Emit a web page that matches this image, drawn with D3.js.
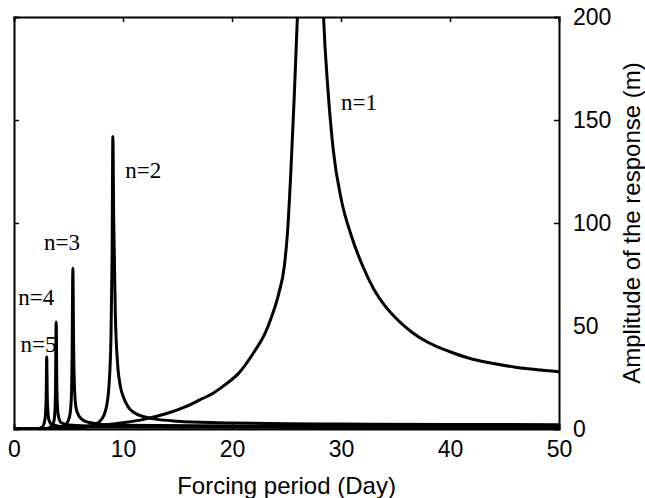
<!DOCTYPE html>
<html>
	<head>
		<title>Forced response amplitude</title>
		<script src="https://d3js.org/d3.v7.min.js"></script>
		<style>
			body {
				margin: 0;
				background-color: white;
			}
			svg {
				display: block;
			}
			.tick-label, .axis-title {
				font-family: "Liberation Sans", Arial, sans-serif;
				fill: black;
			}
			.mode-label {
				font-family: "Liberation Serif", "Times New Roman", serif;
				font-size: 23px;
				fill: black;
			}
			.curve {
				fill: none;
				stroke: black;
				stroke-width: 3;
			}
		</style>
	</head>
	<body>
		<svg id="chart" width="645" height="498"></svg>
		<script>
			// axis ticks
			var xTicks = [0, 10, 20, 30, 40, 50];
			var yTicks = [0, 50, 100, 150, 200];

			// [period (day), amplitude (m)], one array per mode
			var mode1 = [[0, 0], [2, 0.1], [4, 0.4], [6, 0.9], [8, 1.8], [10, 3], [12, 4.8], [14, 7.5],
				[15.7, 10.7], [17, 14], [18.3, 17.5], [19.5, 22], [20.6, 27], [22.1, 38], [23, 46],
				[23.6, 54], [24.3, 66], [24.8, 79], [25.1, 96], [25.4, 125], [25.7, 160], [26, 200],
				[26.3, 250], [28.1, 250], [28.4, 200], [28.8, 165], [29.3, 135], [30, 112], [31, 93],
				[32, 79], [33, 68], [34, 60], [35, 54], [36.5, 47], [38, 42], [40, 37.5], [42, 34],
				[44, 31.8], [46, 30], [48, 28.8], [50, 27.8]];
			var mode2 = [[0, 0], [5, 0.3], [6.5, 1], [7.5, 2.5], [8, 4.5], [8.4, 9], [8.7, 20],
				[8.9, 45], [9.0, 85], [9.07, 142], [9.15, 100], [9.3, 55], [9.5, 32], [9.75, 21],
				[10, 16], [10.5, 10.5], [11, 8], [12, 5.8], [13, 4.8], [15, 3.8], [18, 3.1], [20, 2.9],
				[25, 2.6], [30, 2.4], [40, 2.2], [50, 2.1]];
			var mode3 = [[0, 0], [3.5, 0.3], [4.4, 1], [4.8, 2.5], [5.1, 6], [5.25, 14], [5.33, 35],
				[5.4, 78], [5.47, 40], [5.55, 20], [5.7, 10], [6, 6], [6.5, 3.8], [7.5, 2.6], [10, 1.8],
				[20, 1.4], [50, 1.2]];
			var mode4 = [[0, 0], [3, 0.3], [3.5, 1.5], [3.7, 5], [3.8, 16], [3.87, 52], [3.94, 18],
				[4.05, 7], [4.3, 3.2], [5, 2], [10, 1.2], [50, 0.8]];
			var mode5 = [[0, 0], [2, 0.1], [2.6, 1], [2.85, 5], [2.95, 15], [3.0, 35], [3.06, 14],
				[3.2, 4.5], [3.5, 2], [5, 1], [50, 0.5]];

			// labels next to the peaks: [text, period, amplitude]
			var modeLabels = [["n=1", 30.0, 155], ["n=2", 10.2, 122], ["n=3", 2.75, 87],
				["n=4", 0.4, 60.2], ["n=5", 0.6, 37.4]];

			var margin = {left: 14, right: 86, top: 17, bottom: 69};
			var svg = d3.select("#chart");
			var width = +svg.attr("width") - margin.left - margin.right;
			var height = +svg.attr("height") - margin.top - margin.bottom;

			var g = svg.append("g")
				.attr("transform", "translate(" + margin.left + "," + margin.top + ")");

			// scales
			var xScale = d3.scaleLinear().domain([0, 50]).range([0, width]);
			var yScale = d3.scaleLinear().domain([0, 200]).range([height, 0]);

			// clip so n=1 stops at the frame
			svg.append("defs").append("clipPath").attr("id", "plotClip")
				.append("rect").attr("width", width).attr("height", height);

			var line = d3.line()
				.x(function(d) { return xScale(d[0]); })
				.y(function(d) { return yScale(d[1]); })
				.curve(d3.curveMonotoneX);

			var curves = g.append("g").attr("clip-path", "url(#plotClip)");
			[mode5, mode4, mode3, mode2, mode1].forEach(function(m) {
				curves.append("path").attr("class", "curve").attr("d", line(m));
			});

			// axes, ticks pointing in, matlab style box
			var bottomAxis = d3.axisBottom(xScale).tickValues(xTicks).tickSize(-5).tickPadding(12).tickFormat(d3.format("d"));
			var topAxis = d3.axisTop(xScale).tickValues(xTicks).tickSize(-5).tickFormat("");
			var leftAxis = d3.axisLeft(yScale).tickValues(yTicks).tickSize(-5).tickFormat("");
			var rightAxis = d3.axisRight(yScale).tickValues(yTicks).tickSize(-5).tickPadding(14).tickFormat(d3.format("d"));

			var axes = [
				g.append("g").attr("transform", "translate(0," + height + ")").call(bottomAxis),
				g.append("g").call(topAxis),
				g.append("g").call(leftAxis),
				g.append("g").attr("transform", "translate(" + width + ",0)").call(rightAxis)
			];
			axes.forEach(function(a) {
				a.select(".domain").attr("stroke", "black").attr("stroke-width", 2);
				a.selectAll(".tick line").attr("stroke", "black").attr("stroke-width", 1.5);
				a.selectAll(".tick text").attr("class", "tick-label").style("font-size", "23px").attr("fill", "black");
				a.attr("font-family", null).attr("font-size", null);
			});
			// no ticks at the corners
			axes.forEach(function(a) {
				a.selectAll(".tick line").filter(function(d) {
					return d === 0 || d === 50 || d === 200;
				}).remove();
			});

			// axis titles
			svg.append("text")
				.attr("class", "axis-title")
				.attr("x", margin.left + width / 2)
				.attr("y", 494)
				.attr("text-anchor", "middle")
				.style("font-size", "24px")
				.text("Forcing period (Day)");

			svg.append("text")
				.attr("class", "axis-title")
				.attr("transform", "translate(640," + (margin.top + height / 2) + ") rotate(-90)")
				.attr("text-anchor", "middle")
				.style("font-size", "24px")
				.text("Amplitude of the response (m)");

			// mode labels
			g.selectAll(".mode-label")
				.data(modeLabels)
				.enter().append("text")
				.attr("class", "mode-label")
				.attr("x", function(d) { return xScale(d[1]); })
				.attr("y", function(d) { return yScale(d[2]); })
				.text(function(d) { return d[0]; });
		</script>
	</body>
</html>
